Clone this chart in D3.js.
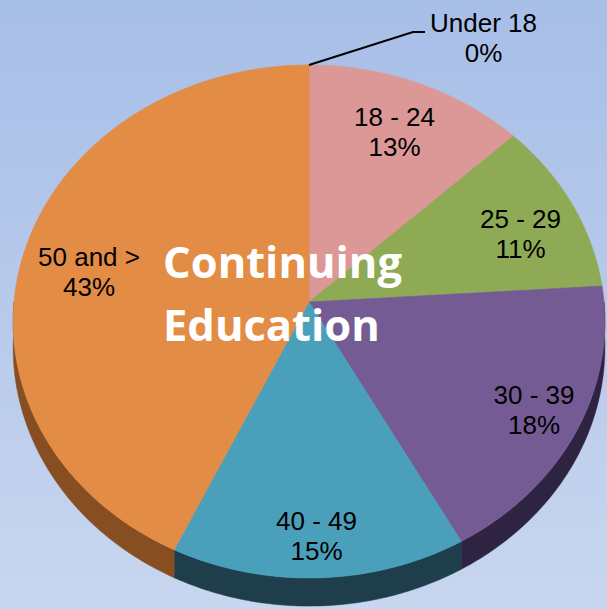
<!DOCTYPE html>
<html><head><meta charset="utf-8">
<script src="https://cdn.jsdelivr.net/npm/d3@7"></script>
<style>html,body{margin:0;padding:0;overflow:hidden;}svg{display:block;}</style>
</head><body>
<svg id="c" width="607" height="609"></svg>
<script>
const categories = ["Under 18", "18 - 24", "25 - 29", "30 - 39", "40 - 49", "50 and >"];
const values = [0, 13, 11, 18, 15, 43];
const pctLabels = ["0%", "13%", "11%", "18%", "15%", "43%"];
const topColors = ["#6f8fbf", "#dc9896", "#8faa55", "#745b94", "#4aa0bb", "#e38c46"];
const sideColors = ["#3a4a66", "#7a4a48", "#4b5c2a", "#2e2442", "#1d3e4a", "#874e22"];
const title = ["Continuing", "Education"];

const svg = d3.select("#c");
const W = 607, H = 609;
const defs = svg.append("defs");
const bg = defs.append("linearGradient").attr("id","bg").attr("x1",0).attr("y1",0).attr("x2",0).attr("y2",1);
bg.append("stop").attr("offset","0%").attr("stop-color","#a7bee7");
bg.append("stop").attr("offset","100%").attr("stop-color","#c8d6ef");
svg.append("rect").attr("width",W).attr("height",H).attr("fill","url(#bg)");

// perspective projection of a unit circle
const cx = 309, cy = 302, A = 255, C = 295, B = 0.076, Hd = 26;
function proj(theta, down) {
  const u = Math.sin(theta), v = -Math.cos(theta);
  const s = 1 / (1 - B * v);
  return [cx + C * u * s, cy + A * v * s + (down ? Hd * s : 0)];
}
const pie = d3.pie().sort(null).value(d => d)(values);
const line = d3.line();
function arcPts(a0, a1, down) {
  const n = Math.max(2, Math.ceil((a1 - a0) / 0.01));
  return d3.range(n + 1).map(i => proj(a0 + (a1 - a0) * i / n, down));
}
// sides (front half only matters)
const gSide = svg.append("g");
pie.forEach((p, i) => {
  if (p.endAngle - p.startAngle <= 0) return;
  const a0 = Math.max(p.startAngle, Math.PI / 2), a1 = Math.min(p.endAngle, 3 * Math.PI / 2);
  if (a1 <= a0) return;
  const top = arcPts(a0, a1, false), bot = arcPts(a0, a1, true).reverse();
  gSide.append("path").attr("d", line(top.concat(bot)) + "Z")
    .attr("fill", sideColors[i]).attr("stroke", sideColors[i]).attr("stroke-width", 0.5);
});
// top faces
const gTop = svg.append("g");
const center = [cx, cy];
pie.forEach((p, i) => {
  if (p.endAngle - p.startAngle <= 0) return;
  const pts = [center].concat(arcPts(p.startAngle, p.endAngle, false));
  gTop.append("path").attr("d", line(pts) + "Z")
    .attr("fill", topColors[i]).attr("stroke", topColors[i]).attr("stroke-width", 0.6);
});

// labels
const labelPos = [[483.5, 32], [394.5, 126], [520.5, 228], [534, 404], [316.5, 530], [89, 266]];
const gl = svg.append("g").attr("font-family", "'Liberation Sans', Arial, sans-serif")
  .attr("font-size", 26).attr("fill", "#000").attr("text-anchor", "middle");
categories.forEach((c, i) => {
  const t = gl.append("text").attr("x", labelPos[i][0]).attr("y", labelPos[i][1]);
  t.append("tspan").attr("x", labelPos[i][0]).text(c);
  t.append("tspan").attr("x", labelPos[i][0]).attr("dy", 29.5).text(pctLabels[i]);
});
// leader line for zero slice
const p0 = proj(pie[0].startAngle, false);
svg.append("path").attr("d", line([p0, [413, 32], [425, 32]]))
  .attr("fill", "none").attr("stroke", "#000").attr("stroke-width", 2);

// title
const gt = svg.append("g").attr("font-family", "'Open Sans', sans-serif").attr("font-weight", "bold")
  .attr("font-size", 43.5).attr("fill", "#fff");
gt.append("text").attr("x", 163).attr("y", 278).text(title[0]);
gt.append("text").attr("x", 163).attr("y", 341).text(title[1]);
</script>
</body></html>
